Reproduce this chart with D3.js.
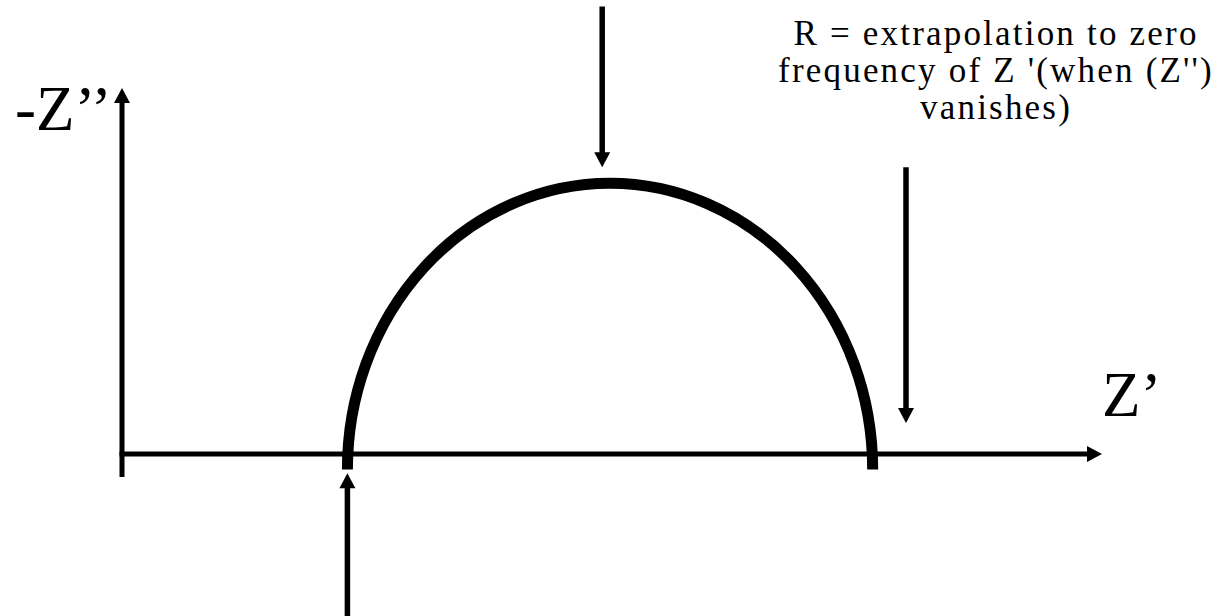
<!DOCTYPE html>
<html>
<head>
<meta charset="utf-8">
<script src="https://cdn.jsdelivr.net/npm/d3@7"></script>
<style>
  html, body { margin: 0; padding: 0; background: #fff; }
  svg { display: block; }
</style>
</head>
<body>
<div id="chart"></div>
<script>
// Nyquist plot (schematic) - values in arbitrary impedance units
const realDomain = [0, 100]     // Z'
const imagDomain = [0, 40]      // -Z''
const arcEnds = [23, 76.6]      // Rs and Rs + Rct on Z'
const arcPeak = 31.3            // -Z'' at top of the arc (above its base)
const arcBase = -1.7            // arc is drawn a little below the axis

// annotation arrows: [Z' , from -Z'', to -Z'']
const arrows = [
  { x: 49, y0: 48.9, y1: 31.35 },   // pointing at the apex
  { x: 80, y0: 31.35, y1: 3.4 },    // pointing at R (right end)
  { x: 23, y0: -17.7, y1: -2.1 }    // pointing at Rs (left end)
]

const noteLines = ['R = extrapolation to zero', "frequency of Z '(when (Z'')", 'vanishes)']

const width = 1229
const height = 616

const x = d3.scaleLinear().domain(realDomain).range([122, 1102])
const y = d3.scaleLinear().domain(imagDomain).range([454, 88])

const svg = d3
  .select('#chart')
  .append('svg')
  .attr('width', width)
  .attr('height', height)

const headLen = 15
const headW = 8

function arrowHead(tx, ty, dir) {
  // dir: 'up' | 'down' | 'right'
  if (dir === 'up') return `M${tx},${ty} L${tx - headW},${ty + headLen} L${tx + headW},${ty + headLen} Z`
  if (dir === 'down') return `M${tx},${ty} L${tx - headW},${ty - headLen} L${tx + headW},${ty - headLen} Z`
  return `M${tx},${ty} L${tx - headLen},${ty - headW} L${tx - headLen},${ty + headW} Z`
}

// axes
const axes = svg.append('g')
axes
  .append('line')
  .attr('x1', x(realDomain[0]))
  .attr('x2', x(realDomain[0]))
  .attr('y1', y(0) + 23)
  .attr('y2', y(imagDomain[1]) + headLen - 1)
  .attr('stroke', '#000')
  .attr('stroke-width', 5)
axes
  .append('path')
  .attr('d', arrowHead(x(realDomain[0]), y(imagDomain[1]), 'up'))
  .attr('fill', '#000')

axes
  .append('line')
  .attr('x1', x(realDomain[0]) - 2.5)
  .attr('x2', x(realDomain[1]) - headLen + 1)
  .attr('y1', y(0))
  .attr('y2', y(0))
  .attr('stroke', '#000')
  .attr('stroke-width', 5)
axes
  .append('path')
  .attr('d', arrowHead(x(realDomain[1]), y(0), 'right'))
  .attr('fill', '#000')

// semicircle
const rx = (x(arcEnds[1]) - x(arcEnds[0])) / 2
const base = y(arcBase)
const ry = base - y(arcBase + arcPeak)
svg
  .append('path')
  .attr('d', `M${x(arcEnds[0])},${base} A${rx},${ry} 0 0 1 ${x(arcEnds[1])},${base}`)
  .attr('fill', 'none')
  .attr('stroke', '#000')
  .attr('stroke-width', 11)

// annotation arrows
const ann = svg.append('g')
arrows.forEach((a) => {
  const down = a.y1 < a.y0
  const tipY = y(a.y1)
  ann
    .append('line')
    .attr('x1', x(a.x))
    .attr('x2', x(a.x))
    .attr('y1', y(a.y0))
    .attr('y2', down ? tipY - headLen + 1 : tipY + headLen - 1)
    .attr('stroke', '#000')
    .attr('stroke-width', 5.5)
  ann
    .append('path')
    .attr('d', arrowHead(x(a.x), tipY, down ? 'down' : 'up'))
    .attr('fill', '#000')
})

// axis labels
svg
  .append('text')
  .attr('x', 15)
  .attr('y', 130)
  .attr('font-family', '"Times New Roman", "Liberation Serif", serif')
  .attr('font-size', 63)
  .text('-Z\u2019\u2019')

svg
  .append('text')
  .attr('x', 1102)
  .attr('y', 416)
  .attr('font-family', '"Times New Roman", "Liberation Serif", serif')
  .attr('font-size', 63)
  .text('Z\u2019')

// note
svg
  .append('text')
  .attr('text-anchor', 'middle')
  .attr('font-family', '"Book Antiqua", Palatino, "Liberation Serif", serif')
  .attr('font-size', 35)
  .attr('letter-spacing', 2.2)
  .selectAll('tspan')
  .data(noteLines)
  .join('tspan')
  .attr('x', 996)
  .attr('y', (d, i) => 45 + i * 37)
  .text((d) => d)
</script>
</body>
</html>
